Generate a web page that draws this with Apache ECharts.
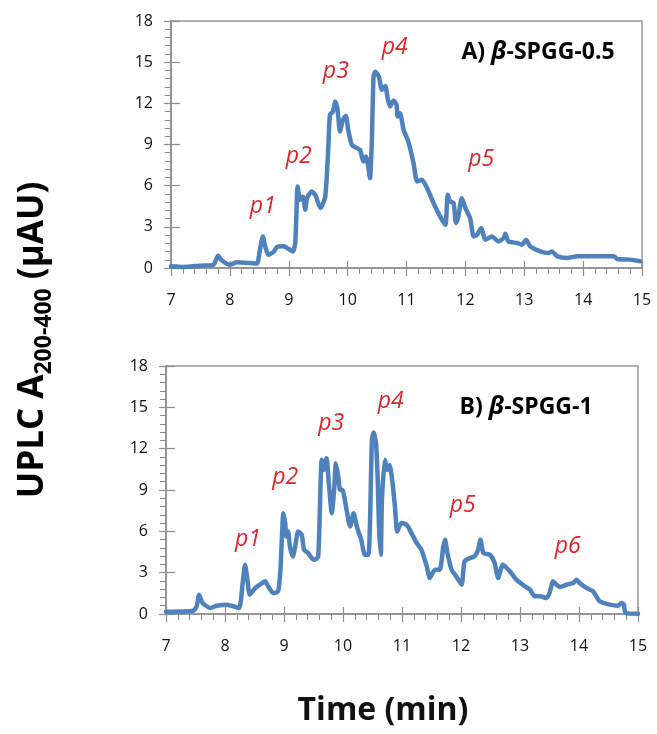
<!DOCTYPE html>
<html><head><meta charset="utf-8">
<script src="https://cdn.jsdelivr.net/npm/echarts/dist/echarts.min.js"></script>
<style>html,body{margin:0;padding:0;background:#fff}#c{width:657px;height:734px}</style>
</head><body><div id="c"></div>
<script>
// ---- Data ----
const xTicks = [7, 8, 9, 10, 11, 12, 13, 14, 15];
const yTicks = [0, 3, 6, 9, 12, 15, 18];

// Panel A: beta-SPGG-0.5
const timeA = [7.00,7.21,7.49,7.72,7.80,7.86,8.00,8.12,8.34,8.46,8.51,8.56,8.60,8.65,8.74,8.80,8.91,9.00,9.07,9.11,9.14,9.15,9.19,9.24,9.28,9.31,9.39,9.45,9.50,9.54,9.62,9.67,9.70,9.75,9.79,9.83,9.87,9.92,9.97,10.01,10.07,10.16,10.21,10.27,10.31,10.35,10.38,10.41,10.44,10.47,10.53,10.58,10.64,10.68,10.72,10.78,10.83,10.85,10.89,10.95,11.03,11.12,11.18,11.26,11.35,11.46,11.57,11.66,11.70,11.74,11.80,11.84,11.88,11.94,12.00,12.08,12.14,12.20,12.27,12.34,12.45,12.56,12.65,12.68,12.73,12.88,12.96,13.03,13.10,13.27,13.41,13.47,13.56,13.73,13.90,14.18,14.52,14.58,14.80,14.97];
const valueA = [0.12,0.07,0.17,0.24,0.90,0.56,0.24,0.41,0.36,0.32,1.33,2.30,1.58,0.97,1.16,1.53,1.58,1.38,1.21,1.82,5.20,5.94,4.97,5.20,4.25,5.09,5.58,5.34,4.73,4.37,5.20,8.60,11.16,11.40,12.13,11.50,9.95,10.80,11.09,10.07,8.98,8.73,8.61,7.76,8.13,7.40,6.55,9.10,13.95,14.31,13.95,12.98,13.27,12.37,11.77,12.20,11.89,11.04,11.28,10.07,9.22,7.64,6.31,6.43,5.82,4.73,3.76,3.15,5.34,4.85,4.73,3.28,3.76,5.09,4.37,3.64,2.30,2.43,2.91,2.06,2.30,1.94,2.18,2.50,1.94,1.82,1.70,2.06,1.58,1.21,1.09,1.21,0.85,0.73,0.85,0.85,0.85,0.66,0.61,0.49];

// Panel B: beta-SPGG-1
const timeB = [7.00,7.46,7.52,7.56,7.62,7.75,7.86,8.03,8.14,8.24,8.30,8.34,8.38,8.42,8.51,8.59,8.68,8.73,8.82,8.90,8.94,8.99,9.02,9.04,9.07,9.10,9.15,9.19,9.24,9.30,9.34,9.41,9.47,9.52,9.58,9.62,9.64,9.68,9.72,9.76,9.81,9.85,9.88,9.92,9.95,9.99,10.06,10.12,10.18,10.22,10.26,10.31,10.37,10.43,10.46,10.49,10.52,10.56,10.59,10.61,10.64,10.66,10.71,10.75,10.79,10.84,10.88,10.92,10.99,11.08,11.16,11.25,11.33,11.42,11.47,11.56,11.64,11.70,11.73,11.77,11.84,11.92,12.01,12.06,12.15,12.23,12.29,12.33,12.38,12.49,12.57,12.63,12.71,12.83,12.94,13.08,13.17,13.25,13.34,13.45,13.50,13.56,13.62,13.68,13.79,13.90,13.96,14.01,14.13,14.24,14.35,14.52,14.66,14.72,14.76,14.79,15.00];
const valueB = [0.17,0.24,0.56,1.40,0.80,0.43,0.60,0.68,0.56,0.43,2.25,3.58,2.49,1.40,1.88,2.13,2.37,2.01,1.52,1.64,3.21,7.32,6.60,5.63,5.99,4.90,4.18,4.90,5.99,5.75,4.66,4.42,4.06,3.94,4.18,9.50,11.19,10.46,11.31,9.50,7.32,9.01,10.94,9.98,9.01,9.01,7.56,6.35,7.32,6.60,5.99,5.39,4.30,4.30,7.08,12.64,13.17,12.39,9.50,6.35,4.30,8.29,11.19,10.46,10.82,9.50,7.80,5.99,6.60,6.47,5.87,5.15,4.66,3.45,2.61,3.21,3.21,4.90,5.39,4.42,3.21,2.73,2.13,3.82,4.06,4.18,4.66,5.39,4.42,4.30,3.70,2.61,3.58,3.09,2.49,2.01,1.76,1.28,1.28,1.16,1.52,2.37,2.13,1.96,2.13,2.25,2.49,2.25,1.88,1.64,0.92,0.68,0.60,0.80,0.68,0.07,0.02];

// Peak annotations (label text and anchor in data units)
const peakNamesA = ['p1', 'p2', 'p3', 'p4', 'p5'];
const peakTimesA = [8.56, 9.17, 9.80, 10.80, 12.27];
const peakLevelsA = [4.5, 8.1, 14.3, 16.1, 7.9];
const peakNamesB = ['p1', 'p2', 'p3', 'p4', 'p5', 'p6'];
const peakTimesB = [8.39, 9.02, 9.80, 10.81, 12.03, 13.81];
const peakLevelsB = [5.4, 9.9, 13.85, 15.45, 7.9, 4.9];

const panelTitles = ['A) ', 'B) '];
const sampleNames = ['-SPGG-0.5', '-SPGG-1'];

// ---- Chart ----
const FONT = 'Open Sans';
const axisGray = '#8c8c8c';
const lineBlue = '#4F81BD';
const peakRed = '#D9262B';
const grids = [
  { left: 171, top: 21, width: 471, height: 247 },
  { left: 166, top: 366, width: 472, height: 248 }
];

function zip(xs, ys) { return xs.map((x, i) => [x, ys[i]]); }
function peaks(names, ts, ys) {
  return names.map((n, i) => ({ name: n, coord: [ts[i], ys[i]] }));
}

const xAxisBase = (gi) => ({
  type: 'value', gridIndex: gi, min: xTicks[0], max: xTicks[xTicks.length - 1], interval: 1,
  axisLine: { show: true, onZero: false, lineStyle: { color: axisGray, width: 1.5 } },
  axisTick: { show: true, length: 8, lineStyle: { color: axisGray, width: 1.2 } },
  minorTick: { show: true, splitNumber: 5, length: 6, lineStyle: { color: axisGray, width: 1 } },
  splitLine: { show: false },
  axisLabel: { margin: 24, color: '#111', fontSize: 16, fontFamily: FONT }
});
const yAxisBase = (gi) => ({
  type: 'value', gridIndex: gi, min: yTicks[0], max: yTicks[yTicks.length - 1], interval: 3,
  axisLine: { show: true, onZero: false, lineStyle: { color: axisGray, width: 1.5 } },
  axisTick: { show: true, length: 7, lineStyle: { color: axisGray, width: 1.2 } },
  minorTick: { show: true, splitNumber: 5, length: 6, lineStyle: { color: axisGray, width: 1 } },
  splitLine: { show: false },
  axisLabel: { margin: 18, color: '#111', fontSize: 16, fontFamily: FONT }
});
// inner halves of the major ticks (ticks cross the axis line in the reference)
const xAxisInner = (gi) => ({
  type: 'value', gridIndex: gi, min: xTicks[0], max: xTicks[xTicks.length - 1], interval: 1,
  axisLine: { show: false, onZero: false }, axisLabel: { show: false }, splitLine: { show: false },
  axisTick: { show: true, inside: true, length: 7, lineStyle: { color: axisGray, width: 1.2 } }
});
const yAxisInner = (gi) => ({
  type: 'value', gridIndex: gi, min: yTicks[0], max: yTicks[yTicks.length - 1], interval: 3,
  axisLine: { show: false, onZero: false }, axisLabel: { show: false }, splitLine: { show: false },
  axisTick: { show: true, inside: true, length: 9, lineStyle: { color: axisGray, width: 1.2 } }
});

function lineSeries(gi, data, pk) {
  return {
    type: 'line', xAxisIndex: gi, yAxisIndex: gi, data: data,
    showSymbol: false, smooth: 0.2, animation: false, z: 3,
    lineStyle: { color: lineBlue, width: 4.5, join: 'round', cap: 'round' },
    markPoint: {
      symbol: 'circle', symbolSize: 1, itemStyle: { color: 'rgba(0,0,0,0)' },
      label: { show: true, position: 'inside', formatter: '{b}', color: peakRed,
               fontStyle: 'italic', fontSize: 23, fontFamily: FONT },
      data: pk
    }
  };
}

const chart = echarts.init(document.getElementById('c'), null, { renderer: 'canvas' });
const richPanel = {
  n: { fontFamily: FONT, fontWeight: 'bold', fontSize: 23, color: '#111' },
  i: { fontFamily: FONT, fontWeight: 'bold', fontStyle: 'italic', fontSize: 25, color: '#111' }
};
chart.setOption({
  animation: false,
  backgroundColor: '#fff',
  grid: [
    Object.assign({ show: true, borderColor: '#999', borderWidth: 1.5, backgroundColor: 'transparent' }, grids[0]),
    Object.assign({ show: true, borderColor: '#999', borderWidth: 1.5, backgroundColor: 'transparent' }, grids[1]),
    Object.assign({ show: false }, grids[0]),
    Object.assign({ show: false }, grids[1])
  ],
  xAxis: [xAxisBase(0), xAxisBase(1), xAxisInner(2), xAxisInner(3)],
  yAxis: [yAxisBase(0), yAxisBase(1), yAxisInner(2), yAxisInner(3)],
  series: [
    lineSeries(0, zip(timeA, valueA), peaks(peakNamesA, peakTimesA, peakLevelsA)),
    lineSeries(1, zip(timeB, valueB), peaks(peakNamesB, peakTimesB, peakLevelsB))
  ],
  graphic: [
    { type: 'text', x: 538, y: 52, style: { text: '{n|' + panelTitles[0] + '}{i|β}{n|' + sampleNames[0] + '}', rich: richPanel, align: 'center', verticalAlign: 'middle' } },
    { type: 'text', x: 526, y: 407, style: { text: '{n|' + panelTitles[1] + '}{i|β}{n|' + sampleNames[1] + '}', rich: richPanel, align: 'center', verticalAlign: 'middle' } },
    { type: 'text', x: 383, y: 711, style: { text: 'Time (min)', fontFamily: FONT, fontWeight: 'bold', fontSize: 32, fill: '#111', align: 'center', verticalAlign: 'middle' } },
    { type: 'text', x: 33, y: 340, rotation: Math.PI / 2,
      style: {
        text: '{b|UPLC A}{s|200-400}{b| (µAU)}', align: 'center', verticalAlign: 'middle',
        rich: {
          b: { fontFamily: FONT, fontWeight: 'bold', fontSize: 35, color: '#111', lineHeight: 46 },
          s: { fontFamily: FONT, fontWeight: 'bold', fontSize: 23, color: '#111', lineHeight: 46, verticalAlign: 'bottom' }
        }
      } }
  ]
});
</script>
</body></html>
